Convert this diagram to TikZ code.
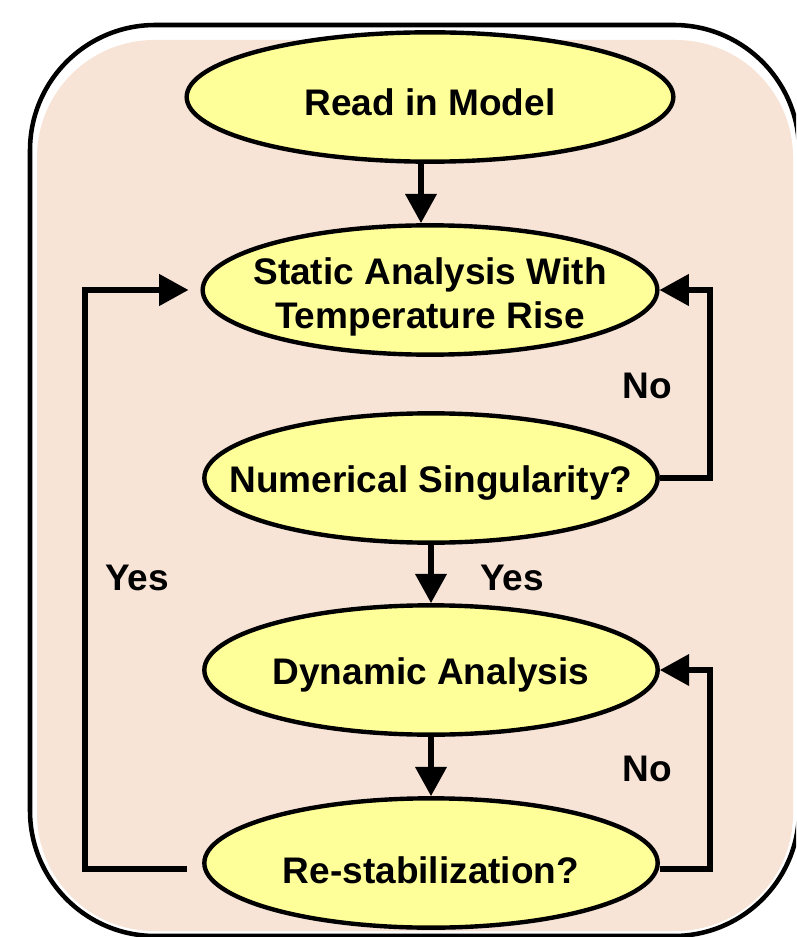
\documentclass[tikz,border=0pt]{standalone}
\usepackage{fontspec}
\setmainfont{Liberation Sans}
\usetikzlibrary{arrows.meta,shapes.geometric,calc}

\definecolor{panelpeach}{RGB}{247,228,215}
\definecolor{boxyellow}{RGB}{255,255,153}

\begin{document}
\begin{tikzpicture}[x=0.75pt,y=-0.75pt,
  proc/.style={ellipse, draw=black, fill=boxyellow, line width=3.3pt,
    inner sep=0pt, minimum width=340pt, minimum height=97pt},
  txt/.style={font=\bfseries\fontsize{27.75pt}{33pt}\selectfont, inner sep=0pt, align=center},
  lbl/.style={font=\bfseries\fontsize{27.75pt}{33pt}\selectfont, inner sep=0pt},
  conn/.style={line width=4pt, draw=black, -{Triangle[length=22pt, width=23pt]}},
  link/.style={line width=4pt, draw=black}]

\useasboundingbox (0,0) rectangle (796,937);
\clip (0,0) rectangle (796,937);

% outer panel with its white bevel and peach inner face
\draw[line width=3.4pt, fill=white, rounded corners=94pt] (30,25) rectangle (799,936);
\fill[panelpeach, rounded corners=88pt] (37,40) rectangle (793,931);

% process ellipses
\node[proc, minimum width=365pt] (read) at (430,97) {};
\node[proc, minimum width=341pt] (static) at (430,290) {};
\node[proc] (num) at (431,478) {};
\node[proc] (dyn) at (431,670) {};
\node[proc] (re) at (431,863) {};

% texts inside the ellipses
\node[txt, anchor=base] (readtext) at (430,116) {Read in Model};
\node[txt] (statictext) at (430,297) {Static Analysis With\\Temperature Rise};
\node[txt, anchor=base] (numtext) at (431,492) {Numerical Singularity?};
\node[txt, anchor=base] (dyntext) at (431,684) {Dynamic Analysis};
\node[txt, anchor=base] (retext) at (431,883) {Re-stabilization?};

% straight-down connectors
\draw[conn] ($(read.south)+(-9,0)$) -- ($(static.north)+(-9,0)$);
\draw[conn] (num.south) -- (dyn.north);
\draw[conn] (dyn.south) -- (re.north);

% feedback loops
\draw[conn] (num.east) -- ++(50,0) |- (static.east);
\draw[conn] ($(re.east)+(0,6)$) -- ++(50,0) |- (dyn.east);
\draw[conn, shorten <=11pt, shorten >=9pt] ($(re.west)+(0,6)$) -- ++(-117,0) |- (static.west);

% branch labels
\node[lbl, anchor=base] (no1) at (647,398) {No};
\node[lbl, anchor=base] (no2) at (647,781) {No};
\node[lbl, anchor=base] (yes1) at (137,590) {Yes};
\node[lbl, anchor=base] (yes2) at (512,590) {Yes};

\end{tikzpicture}
\end{document}
